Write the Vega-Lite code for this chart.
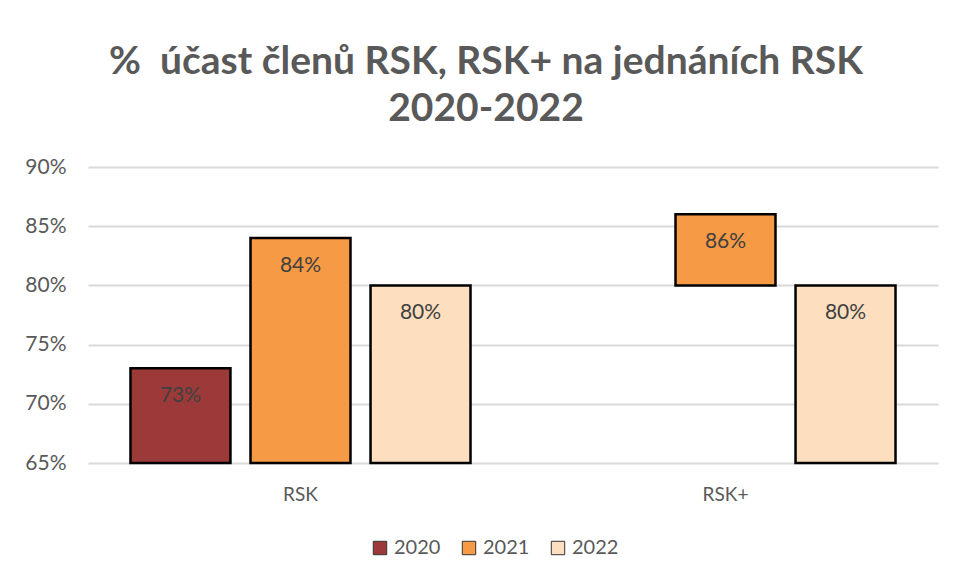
{
  "$schema": "https://vega.github.io/schema/vega-lite/v6.json",
  "width": 850,
  "height": 296,
  "autosize": {"type": "none"},
  "padding": {"left": 88, "top": 167, "right": 16, "bottom": 115},
  "background": "white",
  "config": {"view": {"stroke": null}, "font": "Lato"},
  "title": {
    "text": ["% \u00a0účast členů RSK, RSK+ na jednáních RSK", "2020-2022"],
    "font": "Lato",
    "fontSize": 39,
    "fontWeight": "bold",
    "color": "#595959",
    "anchor": "middle",
    "dx": -27,
    "offset": 27,
    "lineHeight": 47
  },
  "data": {
    "values": [
      {"group": "RSK", "year": "2020", "value": 0.73, "base": 0.65},
      {"group": "RSK", "year": "2021", "value": 0.84, "base": 0.65},
      {"group": "RSK", "year": "2022", "value": 0.80, "base": 0.65},
      {"group": "RSK+", "year": "2021", "value": 0.86, "base": 0.80},
      {"group": "RSK+", "year": "2022", "value": 0.80, "base": 0.65}
    ]
  },
  "encoding": {
    "x": {
      "field": "group",
      "type": "nominal",
      "sort": ["RSK", "RSK+"],
      "scale": {"paddingInner": 0, "paddingOuter": 0},
      "axis": {
        "title": null,
        "labelAngle": 0,
        "domain": false,
        "ticks": false,
        "labelFont": "Lato",
        "labelFontSize": 19,
        "labelColor": "#595959",
        "labelPadding": 22
      }
    },
    "xOffset": {
      "field": "year",
      "type": "nominal",
      "sort": ["2020", "2021", "2022"],
      "scale": {"domain": ["2020", "2021", "2022"], "paddingInner": 0.167, "paddingOuter": 0.354}
    },
    "y": {
      "field": "value",
      "type": "quantitative",
      "scale": {"domain": [0.65, 0.9], "nice": false, "zero": false},
      "axis": {
        "title": null,
        "format": ".0%",
        "values": [0.65, 0.7, 0.75, 0.8, 0.85, 0.9],
        "domain": false,
        "ticks": false,
        "labelFont": "Lato",
        "labelFontSize": 21,
        "labelColor": "#595959",
        "labelPadding": 22,
        "gridColor": "#D9D9D9",
        "gridWidth": 2
      }
    }
  },
  "layer": [
    {
      "mark": {"type": "bar", "stroke": "#000000", "strokeWidth": 2.5},
      "encoding": {
        "y2": {"field": "base"},
        "color": {
          "field": "year",
          "type": "nominal",
          "scale": {"domain": ["2020", "2021", "2022"], "range": ["#9B3A38", "#F79A45", "#FDDFC0"]},
          "legend": {
            "title": null,
            "orient": "none",
            "direction": "horizontal",
            "legendX": 282,
            "legendY": 371,
            "symbolType": "square",
            "symbolSize": 180,
            "symbolStrokeColor": "#333333",
            "symbolStrokeWidth": 1,
            "labelFont": "Lato",
            "labelFontSize": 20,
            "labelColor": "#595959",
            "columnPadding": 18,
            "padding": 0
          }
        }
      }
    },
    {
      "mark": {"type": "text", "baseline": "middle", "dy": 28, "fontSize": 21, "font": "Lato", "color": "#404040"},
      "encoding": {
        "text": {"field": "value", "type": "quantitative", "format": ".0%"}
      }
    }
  ]
}
